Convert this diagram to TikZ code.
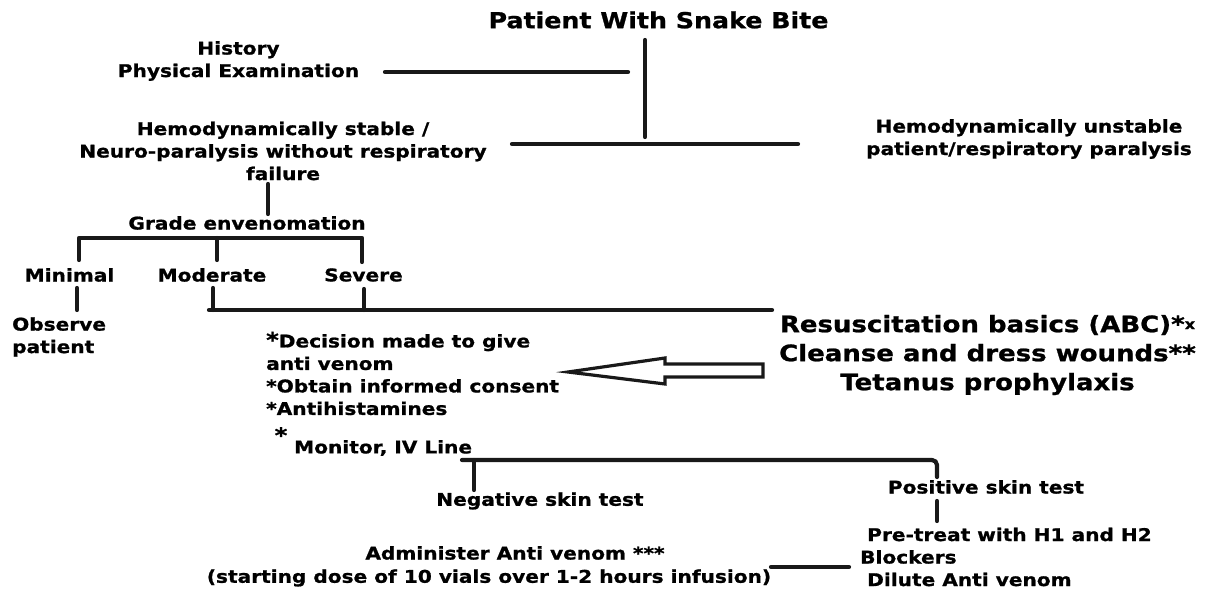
\documentclass[tikz,border=0pt]{standalone}
\usepackage{fontspec}
\setmainfont{DejaVu Sans}[FakeStretch=1.15,BoldFeatures={FakeBold=1}]
\begin{document}
\begin{tikzpicture}[x=1pt,y=-1pt,
  txt/.style={inner sep=0pt,font=\bfseries\fontsize{17.5}{22.5}\selectfont,align=center},
  big/.style={inner sep=0pt,font=\bfseries\fontsize{22.6}{29}\selectfont,align=center},
  ttl/.style={inner sep=0pt,font=\bfseries\fontsize{22}{28}\selectfont},
  ln/.style={line width=4.2pt,line cap=round,line join=round,black!90}
]
\useasboundingbox (0,0) rectangle (1219,589);
% text nodes
\node[ttl] (title) at (658.5,20) {Patient With Snake Bite};
\node[txt] (hist) at (238.5,61) {History\\Physical Examination};
\node[txt] (stable) at (283,151) {Hemodynamically stable /\\Neuro-paralysis without respiratory\\failure};
\node[txt] (unstable) at (1029,139) {Hemodynamically unstable\\patient/respiratory paralysis};
\node[txt] (grade) at (247,223) {Grade envenomation};
\node[txt] (minimal) at (69.5,275) {Minimal};
\node[txt] (moderate) at (212,275) {Moderate};
\node[txt] (severe) at (363.5,275) {Severe};
\node[txt,align=left,anchor=west] (observe) at (12,337) {Observe\\patient};
\node[big] (resus) at (987.5,355) {Resuscitation basics (ABC)*\raisebox{3pt}{\fontsize{14}{14}\selectfont x}\\Cleanse and dress wounds**\\Tetanus prophylaxis};
\node[txt,align=left,anchor=west] (decision) at (266,373.5) {{\fontsize{21}{22}\selectfont*}Decision made to give\\anti venom\\*Obtain informed consent\\*Antihistamines};
\node[txt] (star) at (281,435) {{\fontsize{21}{22}\selectfont*}};
\node[txt,anchor=west] (monitor) at (294,448) {Monitor, IV Line};
\node[txt] (negative) at (540,501) {Negative skin test};
\node[txt] (positive) at (986,487) {Positive skin test};
\node[txt,align=left,anchor=west] (pretreat) at (860,557) {\hspace*{7pt}Pre-treat with H1 and H2\\Blockers\\\hspace*{7pt}Dilute Anti venom};
\node[txt] (admin1) at (515,553) {Administer Anti venom ***};
\node[txt] (admin2) at (489,578) {(starting dose of 10 vials over 1-2 hours infusion)};
% junction coordinates
\coordinate (h1) at (385,72);
\coordinate (h2) at (628,72);
\coordinate (t1) at (645,40);
\coordinate (t2) at (645,137);
\coordinate (s1) at (512,144);
\coordinate (s2) at (798,144);
\coordinate (f1) at (268,184);
\coordinate (f2) at (268,214);
\coordinate (g1) at (79,260);
\coordinate (g2) at (79,238);
\coordinate (g3) at (362,238);
\coordinate (g4) at (362,262);
\coordinate (g5) at (217,238);
\coordinate (g6) at (217,260);
\coordinate (m1) at (77,288);
\coordinate (m2) at (77,310);
\coordinate (d1) at (213,288);
\coordinate (d2) at (209,310);
\coordinate (d3) at (772,310);
\coordinate (e1) at (364,289);
\coordinate (e2) at (364,310);
\coordinate (n0) at (462,460);
\coordinate (n1) at (474,460);
\coordinate (n2) at (474,490);
\coordinate (p1) at (937,460);
\coordinate (p2) at (937,477);
\coordinate (q1) at (937,501);
\coordinate (q2) at (937,521);
\coordinate (r1) at (771,567);
\coordinate (r2) at (849,567);
% connectors
\draw[ln] (h1) -- (h2);
\draw[ln] (t1) -- (t2);
\draw[ln] (s1) -- (s2);
\draw[ln] (f1) -- (f2);
\draw[ln] (g1) -- (g2) -- (g3) -- (g4);
\draw[ln] (g5) -- (g6);
\draw[ln] (m1) -- (m2);
\draw[ln] (d1) -- (d1 |- d2);
\draw[ln] (d2) -- (d3);
\draw[ln] (e1) -- (e2);
\draw[ln,rounded corners=5pt] (n0) -- (p1) -- (p2);
\draw[ln] (n1) -- (n2);
\draw[ln] (q1) -- (q2);
\draw[ln] (r1) -- (r2);
% hollow arrow
\draw[line width=3.2pt,line join=miter,black!90]
  (568,372) -- (665,358) -- (665,364) -- (763,364) -- (763,377) -- (665,377) -- (665,384) -- cycle;
\end{tikzpicture}
\end{document}
